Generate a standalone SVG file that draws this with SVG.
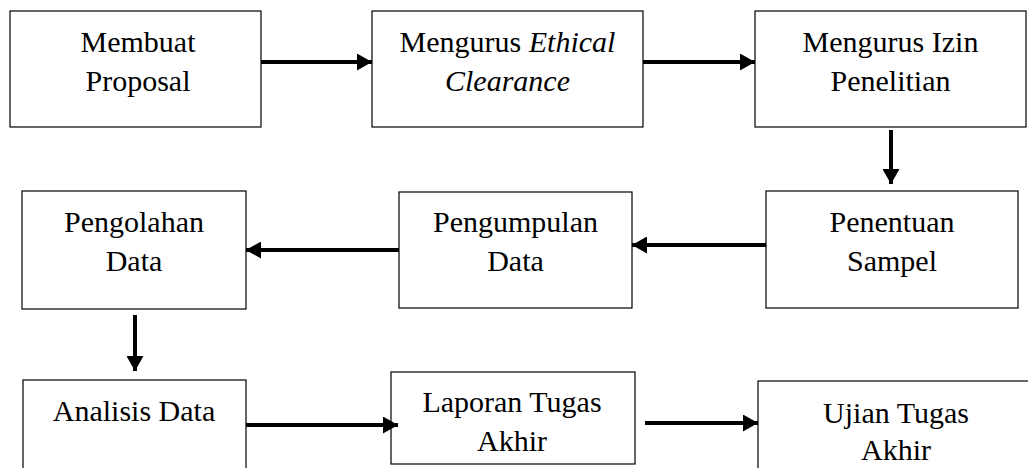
<svg xmlns="http://www.w3.org/2000/svg" width="1028" height="468" viewBox="0 0 1028 468">
<style>
.box{fill:#fff;stroke:#000;stroke-width:1.2}
.t{font-family:"Liberation Serif","Times New Roman",serif;font-size:30px;fill:#000;text-anchor:middle}
.c{stroke:#000;stroke-width:4;fill:none}
</style>
<defs>
<marker id="ah" markerUnits="userSpaceOnUse" markerWidth="15" markerHeight="17" viewBox="0 0 15 17" refX="15" refY="8.5" orient="auto">
<polygon points="0,0 15,8.5 0,17" fill="#000"/>
</marker>
</defs>
<rect width="1028" height="468" fill="#fff"/>
<g id="n1"><rect class="box" x="10" y="11" width="251" height="116"/><text class="t" x="138" y="52">Membuat</text><text class="t" x="138" y="91">Proposal</text></g>
<g id="n2"><rect class="box" x="372" y="11" width="271" height="116"/><text class="t" x="507.5" y="52">Mengurus <tspan font-style="italic">Ethical</tspan></text><text class="t" x="507.5" y="91" font-style="italic">Clearance</text></g>
<g id="n3"><rect class="box" x="755" y="11" width="271" height="116"/><text class="t" x="890.5" y="52">Mengurus Izin</text><text class="t" x="890.5" y="91">Penelitian</text></g>
<g id="n4"><rect class="box" x="766" y="191" width="252" height="117"/><text class="t" x="892" y="232">Penentuan</text><text class="t" x="892" y="271">Sampel</text></g>
<g id="n5"><rect class="box" x="399" y="192" width="233" height="116"/><text class="t" x="515.5" y="232">Pengumpulan</text><text class="t" x="515.5" y="271">Data</text></g>
<g id="n6"><rect class="box" x="22" y="191" width="224" height="118"/><text class="t" x="134" y="232">Pengolahan</text><text class="t" x="134" y="271">Data</text></g>
<g id="n7"><rect class="box" x="23" y="380" width="223" height="100"/><text class="t" x="134" y="421">Analisis Data</text></g>
<g id="n8"><rect class="box" x="391" y="372" width="244" height="92"/><text class="t" x="512" y="412">Laporan Tugas</text><text class="t" x="512" y="451">Akhir</text></g>
<g id="n9"><rect class="box" x="758" y="381" width="290" height="100"/><text class="t" x="896" y="423">Ujian Tugas</text><text class="t" x="896" y="460">Akhir</text></g>
<g id="connectors">
<line class="c" x1="261" y1="62" x2="372" y2="62" marker-end="url(#ah)"/>
<line class="c" x1="643" y1="62" x2="755" y2="62" marker-end="url(#ah)"/>
<line class="c" x1="891" y1="130" x2="891" y2="184" marker-end="url(#ah)"/>
<line class="c" x1="766" y1="245" x2="632" y2="245" marker-end="url(#ah)"/>
<line class="c" x1="399" y1="250" x2="246" y2="250" marker-end="url(#ah)"/>
<line class="c" x1="135" y1="315" x2="135" y2="371" marker-end="url(#ah)"/>
<line class="c" x1="246" y1="425" x2="398" y2="425" marker-end="url(#ah)"/>
<line class="c" x1="645" y1="423" x2="758" y2="423" marker-end="url(#ah)"/>
</g>
</svg>
